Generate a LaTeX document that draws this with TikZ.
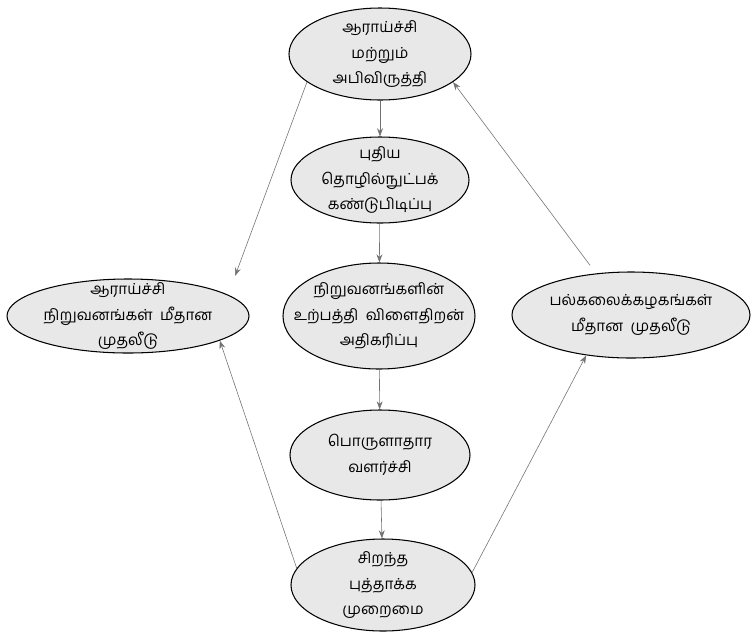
\documentclass[tikz,border=0pt]{standalone}
\usepackage{fontspec}
\newfontfamily\tamilfont[Script=Tamil]{Hind Madurai}
\usetikzlibrary{shapes.geometric,arrows.meta}
\tikzset{
	bubble/.style={ellipse, draw=black, line width=0.9pt, fill=black!9, align=center,
		inner xsep=-3cm, inner ysep=-1.5cm, font=\tamilfont\fontsize{13}{22}\selectfont},
	link/.style={-{Stealth[length=7pt, width=5pt]}, draw=black!55, line width=0.5pt}
}

\begin{document}
\begin{tikzpicture}[x=0.03cm, y=-0.03cm]
		%%%%% START %%%%%
		\useasboundingbox (0, 0) rectangle (756, 632);
		
		\node[bubble, minimum width=5.46cm, minimum height=2.76cm] (rd) at (380, 54) {ஆராய்ச்சி\\மற்றும்\\அபிவிருத்தி};
		\node[bubble, minimum width=5.34cm, minimum height=2.58cm] (tech) at (380, 180) {புதிய\\தொழில்நுட்பக்\\கண்டுபிடிப்பு};
		\node[bubble, minimum width=5.76cm, minimum height=3.18cm] (prod) at (379, 316) {நிறுவனங்களின்\\உற்பத்தி\ \ விளைதிறன்\\அதிகரிப்பு};
		\node[bubble, minimum width=5.40cm, minimum height=2.70cm] (econ) at (380, 455) {பொருளாதார\\வளர்ச்சி};
		\node[bubble, minimum width=5.52cm, minimum height=2.76cm] (innov) at (383, 585) {சிறந்த\\புத்தாக்க\\முறைமை};
		
		\node[bubble, minimum width=7.26cm, minimum height=2.22cm] (inst) at (128, 316) {ஆராய்ச்சி\\நிறுவனங்கள்\ \ மீதான\\முதலீடு};
		\node[bubble, minimum width=7.14cm, minimum height=2.58cm] (univ) at (631, 315) {பல்கலைக்கழகங்கள்\\மீதான\ \ முதலீடு};
		
		% down the middle
		\draw[link] (rd) -- (tech);
		\draw[link] (tech) -- (prod);
		\draw[link] (prod) -- (econ);
		\draw[link] (econ) -- (innov);
		
		% round the sides
		\draw[link, shorten >=0.6cm] (rd.201) -- (inst.12);
		\draw[link] (innov.169) -- (inst.345);
		\draw[link] (innov.8) -- (univ.222);
		\draw[link, shorten <=0.3cm] (univ.130) -- (rd.339);
		
		%%%%% END %%%%%
	\end{tikzpicture}
\end{document}
